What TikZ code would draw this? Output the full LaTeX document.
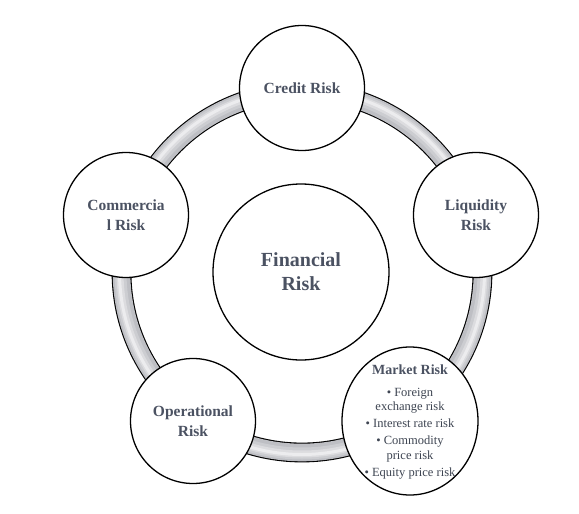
\documentclass[tikz,border=0pt]{standalone}
\usepackage{fontspec}
\setmainfont{Liberation Serif}
\usetikzlibrary{shapes.geometric}
\definecolor{txt}{HTML}{4B5262}
\definecolor{txtb}{HTML}{3E4552}
\definecolor{ringA}{RGB}{190,191,196}
\definecolor{ringB}{RGB}{204,205,209}
\definecolor{ringC}{RGB}{220,220,223}
\definecolor{ringD}{RGB}{236,236,238}
\tikzset{
  riskcirc/.style={circle, draw=black, line width=1.3pt, fill=white, minimum size=125pt, inner sep=0pt, align=center, text=txt, font=\fontsize{15.5}{19.5}\selectfont\bfseries},
  centrecirc/.style={circle, draw=black, line width=1.3pt, fill=white, minimum size=176pt, inner sep=0pt, align=center, text=txt, font=\fontsize{20}{24}\selectfont\bfseries},
  marketell/.style={ellipse, draw=black, line width=1.3pt, fill=white, minimum width=136pt, minimum height=148pt, inner sep=0pt},
  markettxt/.style={align=center, text=txtb, inner sep=0pt, font=\fontsize{12.5}{14.5}\selectfont}
}
\begin{document}
\begin{tikzpicture}[x=1pt,y=-1pt]
\useasboundingbox (0,0) rectangle (579,514);
\coordinate (ringc) at (302,272);
% ring (tube)
\draw[line width=19.8pt, black] (ringc) circle (180.5);
\draw[line width=17.6pt, ringA] (ringc) circle (180.5);
\draw[line width=12pt, ringB] (ringc) circle (181.5);
\draw[line width=7pt, ringC] (ringc) circle (182);
\draw[line width=3pt, ringD] (ringc) circle (182.5);
% nodes
\node[centrecirc] (fin) at (301,272) {Financial\\Risk};
\node[riskcirc] (credit) at (302,88) {Credit Risk};
\node[riskcirc] (comm) at (126,215) {Commercia\\l Risk};
\node[riskcirc] (liq) at (476,215) {Liquidity\\Risk};
\node[riskcirc] (oper) at (193,421) {Operational\\Risk};
\node[marketell] (market) at (410,421) {};
\node[markettxt] (markettext) at (410,422) {{\fontsize{14}{14.5}\selectfont\bfseries\color{txt}Market Risk}\\[7pt]
\textbullet\ Foreign\\exchange risk\\[2.5pt]
\textbullet\ Interest rate risk\\[2.5pt]
\textbullet\ Commodity\\price risk\\[2.5pt]
\textbullet\ Equity price risk};
\end{tikzpicture}
\end{document}
